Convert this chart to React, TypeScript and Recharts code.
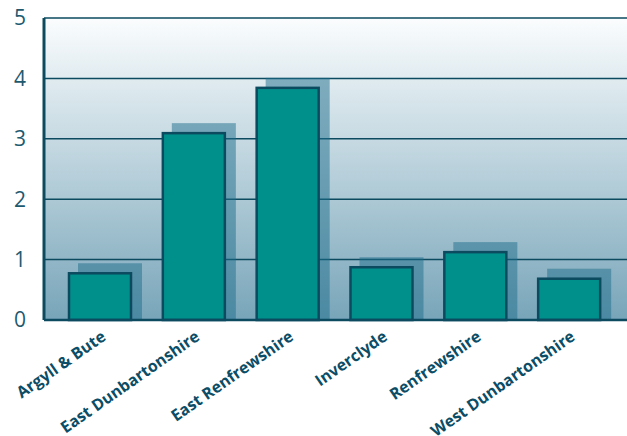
import { ComposedChart, Bar, XAxis, YAxis, CartesianGrid } from 'recharts'

const areas = [
  'Argyll & Bute',
  'East Dunbartonshire',
  'East Renfrewshire',
  'Inverclyde',
  'Renfrewshire',
  'West Dunbartonshire',
]
const values = [0.79, 3.11, 3.86, 0.89, 1.14, 0.7]
const yTicks = [0, 1, 2, 3, 4, 5]

const data = areas.map((name, i) => ({ name, value: values[i] }))

const DARK = '#0b4a5f'

const ShadowBar = (props: any) => {
  const { x, y, width, height } = props
  return (
    <g>
      <rect x={x + 10} y={y - 9} width={width} height={height + 9} fill="rgba(30,110,140,0.5)" />
      <rect
        x={x + 1}
        y={y + 1}
        width={width - 2}
        height={height - 1}
        fill="#00908c"
        stroke={DARK}
        strokeWidth={2.5}
      />
    </g>
  )
}

const AreaTick = (props: any) => {
  const { x, y, payload } = props
  const tx = x + 7
  const ty = y + 19
  return (
    <text
      x={tx}
      y={ty}
      textAnchor="end"
      transform={`rotate(-35 ${tx} ${ty})`}
      fill="#0b4d66"
      fontSize={16}
      fontWeight="bold"
      fontFamily="'Open Sans', sans-serif"
    >
      {payload.value}
    </text>
  )
}

export default function App() {
  return (
    <div style={{ position: 'fixed', left: 0, top: 0, background: '#fff' }}>
      <ComposedChart
        width={627}
        height={436}
        data={data}
        margin={{ top: 18, right: 0, bottom: 0, left: 0 }}
      >
        <defs>
          <linearGradient id="bg" x1="0" y1="0" x2="0" y2="1">
            <stop offset="0%" stopColor="#fbfdfe" />
            <stop offset="100%" stopColor="#78a5b9" />
          </linearGradient>
        </defs>
        <CartesianGrid
          vertical={false}
          fill="url(#bg)"
          fillOpacity={1}
          stroke={DARK}
          strokeWidth={1.5}
        />
        <XAxis
          dataKey="name"
          height={116}
          interval={0}
          tickLine={false}
          tickSize={0}
          tickMargin={0}
          padding={{ left: 9, right: 11 }}
          axisLine={{ stroke: DARK, strokeWidth: 2.5 }}
          tick={<AreaTick />}
        />
        <YAxis
          width={44}
          domain={[0, 5]}
          ticks={yTicks}
          tickLine={false}
          tickSize={0}
          tickMargin={18}
          axisLine={{ stroke: DARK, strokeWidth: 3 }}
          tick={{ fill: '#1d5a70', fontSize: 21, fontFamily: "'Open Sans', sans-serif" }}
        />
        <Bar dataKey="value" barSize={64} shape={<ShadowBar />} isAnimationActive={false} />
      </ComposedChart>
    </div>
  )
}
